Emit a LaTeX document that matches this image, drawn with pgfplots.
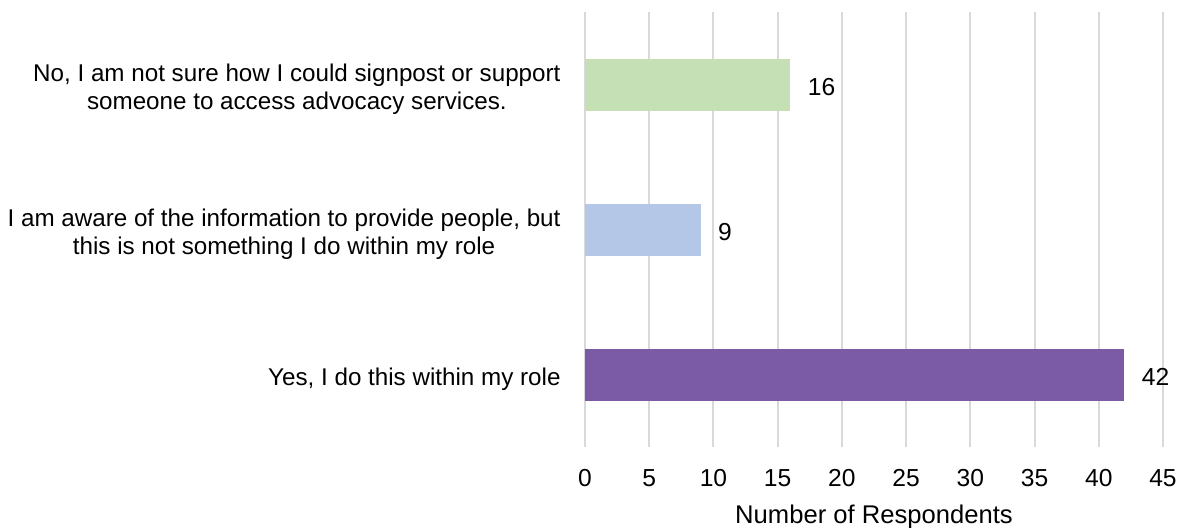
\documentclass[border=0pt]{standalone}
\usepackage{fontspec}
\setmainfont{Liberation Sans}
\usepackage{pgfplots}
\pgfplotsset{compat=1.18}
\definecolor{cgreen}{HTML}{C5E0B4}
\definecolor{cblue}{HTML}{B4C7E7}
\definecolor{cpurple}{HTML}{7B5BA6}
\definecolor{cgrid}{HTML}{D9D9D9}
\begin{document}
\fontsize{12.1}{14}\selectfont
\begin{tikzpicture}
\begin{axis}[
  scale only axis,
  width=289pt, height=217.5pt,
  xbar, bar width=26pt, bar shift=0pt,
  xmin=0, xmax=45, ymin=-0.5, ymax=2.5,
  xtick={0,5,...,45},
  ytick={0,1,2},
  yticklabels={{Yes, I do this within my role},{I am aware of the information to provide people, but\\this is not something I do within my role},{No, I am not sure how I could signpost or support\\someone to access advocacy services.}},
  yticklabel style={align=center, xshift=-8pt, yshift=-2.5pt, font=\fontsize{12.1}{14.2}\selectfont},
  xticklabel style={yshift=-7pt, font=\fontsize{12.3}{14}\selectfont},
  /pgf/number format/assume math mode=true,
  axis line style={draw=none},
  major tick length=0pt,
  tick style={draw=none},
  xmajorgrids, grid style={cgrid, line width=1pt},
  xlabel={Number of Respondents},
  xlabel style={font=\fontsize{12.8}{14}\selectfont, yshift=-1pt},
  nodes near coords,
  nodes near coords style={font=\fontsize{12.3}{14}\selectfont, anchor=west, xshift=4.5pt, yshift=-1.2pt, text=black},
  clip=false,
]
\addplot[fill=cpurple, draw=none] coordinates {(42,0)};
\addplot[fill=cblue, draw=none] coordinates {(9,1)};
\addplot[fill=cgreen, draw=none] coordinates {(16,2)};
\coordinate (sw) at (rel axis cs:0,0);
\end{axis}
\pgfresetboundingbox
\path[use as bounding box] ([shift={(-292.5pt,-40pt)}]sw) rectangle ([shift={(299.5pt,223.5pt)}]sw);
\end{tikzpicture}
\end{document}
